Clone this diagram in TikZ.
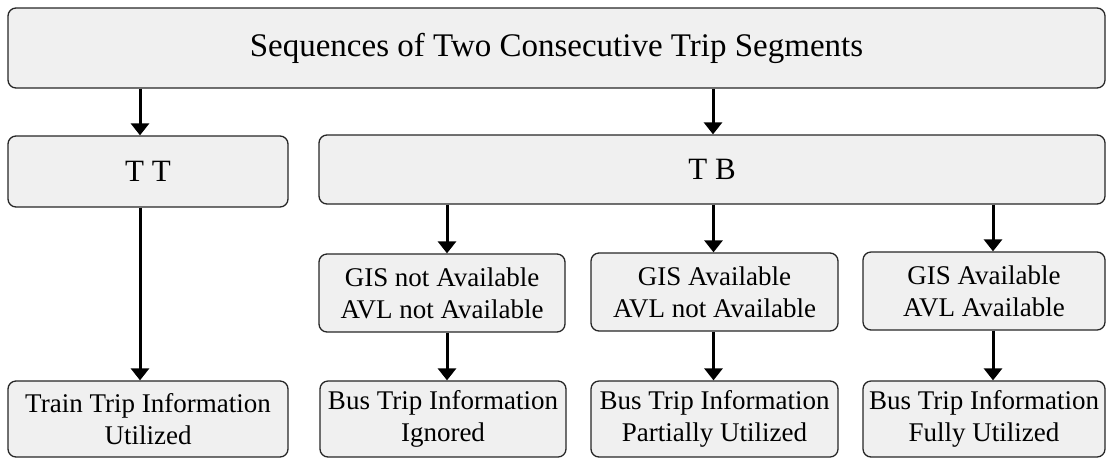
\documentclass[tikz,border=0pt]{standalone}
\usepackage{fontspec}
\setmainfont{Liberation Serif}
\usetikzlibrary{arrows.meta}

\tikzset{
  box/.style={draw=black!85, line width=1.3pt, rounded corners=8pt,
    fill=black!6, align=center, inner sep=0pt, text=black},
  headbox/.style={box, font=\fontsize{33}{38}\selectfont},
  groupbox/.style={box, font=\fontsize{31}{36}\selectfont},
  infobox/.style={box, font=\fontsize{27}{32}\selectfont},
  arr/.style={line width=3pt, draw=black,
    -{Triangle[length=12pt,width=18pt]}, shorten >=0pt}
}

\begin{document}
\begin{tikzpicture}[x=1pt, y=-1pt]
  \useasboundingbox (0,0) rectangle (1107,459);

  % root
  \node[headbox, minimum width=1097pt, minimum height=80pt] (top) at (556.5,48)
    {Sequences of Two Consecutive Trip Segments};

  % segment pairs
  \node[groupbox, minimum width=280pt, minimum height=71pt] (tt) at (148,171.5) {T T};
  \node[groupbox, minimum width=786pt, minimum height=69pt] (tb) at (712,169.5) {T B};

  % data availability cases
  \node[infobox, minimum width=246pt, minimum height=78pt] (m1) at (442,293)
    {GIS not Available\\AVL not Available};
  \node[infobox, minimum width=247pt, minimum height=78pt] (m2) at (714.5,292)
    {GIS Available\\AVL not Available};
  \node[infobox, minimum width=242pt, minimum height=78pt] (m3) at (984,291)
    {GIS Available\\AVL Available};

  % outcomes
  \node[infobox, minimum width=280pt, minimum height=76pt] (b0) at (148,419)
    {Train Trip Information\\Utilized};
  \node[infobox, minimum width=246pt, minimum height=76pt] (b1) at (443,419)
    {Bus Trip Information\\Ignored};
  \node[infobox, minimum width=247pt, minimum height=76pt] (b2) at (714.5,419)
    {Bus Trip Information\\Partially Utilized};
  \node[infobox, minimum width=242pt, minimum height=76pt] (b3) at (984,419)
    {Bus Trip Information\\Fully Utilized};

  % connectors
  \draw[arr] ([xshift=-8pt]tt.north |- top.south) -- ([xshift=-8pt]tt.north);
  \draw[arr] ([xshift=1pt]tb.north |- top.south) -- ([xshift=1pt]tb.north);
  \draw[arr] ([xshift=-8pt]tt.south) -- ([xshift=-8pt]b0.north);

  \draw[arr] ([xshift=5pt]m1.north |- tb.south) -- ([xshift=5pt]m1.north);
  \draw[arr] ([xshift=-1pt]m2.north |- tb.south) -- ([xshift=-1pt]m2.north);
  \draw[arr] ([xshift=9pt]m3.north |- tb.south) -- ([xshift=9pt]m3.north);

  \draw[arr] ([xshift=5pt]m1.south) -- ([xshift=5pt]m1.south |- b1.north);
  \draw[arr] ([xshift=-1pt]m2.south) -- ([xshift=-1pt]m2.south |- b2.north);
  \draw[arr] ([xshift=9pt]m3.south) -- ([xshift=9pt]m3.south |- b3.north);
\end{tikzpicture}
\end{document}
